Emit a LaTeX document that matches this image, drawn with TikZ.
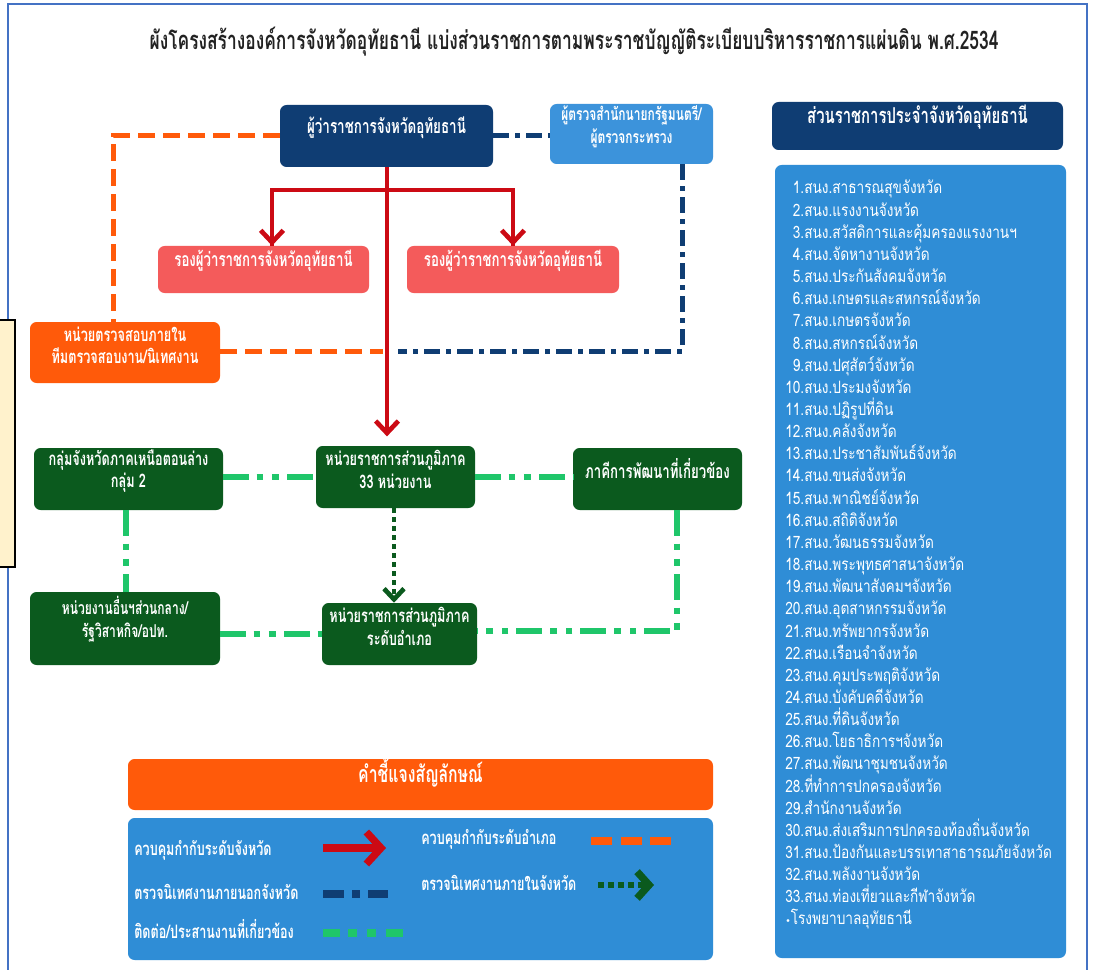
\documentclass[tikz,border=0pt]{standalone}
\usepackage{fontspec}
\setmainfont[Script=Thai]{Loma}
\newfontfamily\thai[Script=Thai,FakeStretch=0.8]{Loma}
\newfontfamily\thaib[Script=Thai,FakeStretch=0.68]{Loma Bold}
\newfontfamily\dejavu{DejaVu Sans}
\usetikzlibrary{fit,arrows.meta,calc}
\definecolor{navy}{HTML}{0F3D73}
\definecolor{inspblue}{HTML}{3C93DB}
\definecolor{salmon}{HTML}{F45B5B}
\definecolor{orng}{HTML}{FF5A0A}
\definecolor{dkgreen}{HTML}{0B5A1E}
\definecolor{listblue}{HTML}{2F8DD6}
\definecolor{lgreen}{HTML}{1FC66A}
\definecolor{redline}{HTML}{CC0A14}
\definecolor{framecol}{HTML}{4472C4}
\definecolor{cream}{HTML}{FFF2CC}
\definecolor{titlecol}{HTML}{222222}
\tikzset{
  box/.style={rounded corners=5pt, inner sep=0pt, text=white, align=center,
    font=\thaib\fontsize{14.6}{17}\selectfont},
  boxtwo/.style={box, font=\thaib\fontsize{14}{17}\selectfont},
  odash/.style={draw=orng, line width=3.75pt, dash pattern=on 12.75pt off 6pt},
  ndash/.style={draw=navy, line width=3.75pt, dash pattern=on 12pt off 4.5pt on 3.75pt off 4.5pt},
  gdash/.style={draw=lgreen, line width=4.5pt, dash pattern=on 19.5pt off 5.5pt on 5pt off 6.5pt on 5pt off 6.5pt},
  ddot/.style={draw=dkgreen, line width=3.5pt, dash pattern=on 3.75pt off 3pt},
  redarr/.style={draw=redline, line width=3pt, -{Straight Barb[length=9pt,width=17pt,line width=3.5pt]}},
  listtxt/.style={anchor=base west, inner sep=0pt, text=white, font=\thai\fontsize{12.8}{14}\selectfont},
  legtxt/.style={anchor=base west, inner sep=0pt, text=white, font=\thaib\fontsize{13.9}{15}\selectfont},
}
\begin{document}
\begin{tikzpicture}[x=0.75pt,y=-0.75pt]
\useasboundingbox (0,0) rectangle (1093,970);
\fill[white] (0,0) rectangle (1093,970);
% frame
\draw[framecol, line width=1.5pt] (8,975) -- (8,4) -- (1087,4) -- (1087,975);
% cream strip
\node[draw=black, fill=cream, line width=0.8pt, inner sep=0pt, fit={(-2,320) (15,567)}] (cream) {};
% title
\node[text=titlecol, inner sep=0pt, font=\thaib\fontsize{19.2}{22}\selectfont] (title) at (574,42)
  {ผังโครงสร้างองค์การจังหวัดอุทัยธานี แบ่งส่วนราชการตามพระราชบัญญัติระเบียบบริหารราชการแผ่นดิน พ.ศ.2534};

% boxes
\node[box, fill=navy, fit={(280,105) (493,167)}, font=\thaib\fontsize{14.8}{17}\selectfont] (gov) {ผู้ว่าราชการจังหวัดอุทัยธานี};
\node[boxtwo, fill=inspblue, fit={(550,104) (713,164)}, font=\thaib\fontsize{13.2}{17}\selectfont] (insp) {ผู้ตรวจสำนักนายกรัฐมนตรี/\\ผู้ตรวจกระทรวง};
\node[box, fill=salmon, fit={(158,246) (369,293)}] (depl) {รองผู้ว่าราชการจังหวัดอุทัยธานี};
\node[box, fill=salmon, fit={(407,246) (619,293)}] (depr) {รองผู้ว่าราชการจังหวัดอุทัยธานี};
\node[boxtwo, fill=orng, fit={(30,322) (220,383)}] (audit) {หน่วยตรวจสอบภายใน\\ทีมตรวจสอบงาน/นิเทศงาน};
\node[boxtwo, fill=dkgreen, fit={(34,448) (223,510)}] (grp) {กลุ่มจังหวัดภาคเหนือตอนล่าง\\กลุ่ม 2};
\node[boxtwo, fill=dkgreen, fit={(316,446) (475,508)}] (c33) {หน่วยราชการส่วนภูมิภาค\\33 หน่วยงาน};
\node[box, fill=dkgreen, fit={(573,448) (742,510)}] (party) {ภาคีการพัฒนาที่เกี่ยวข้อง};
\node[boxtwo, fill=dkgreen, fit={(30,592) (220,665)}, font=\thaib\fontsize{13.3}{17}\selectfont] (other) {หน่วยงานอื่นฯส่วนกลาง/\\รัฐวิสาหกิจ/อปท.};
\node[boxtwo, fill=dkgreen, fit={(322,603) (477,665)}] (camp) {หน่วยราชการส่วนภูมิภาค\\ระดับอำเภอ};

% right column
\node[box, fill=navy, fit={(772,102) (1063,150)}, font=\thaib\fontsize{16.4}{18}\selectfont] (rhead) {ส่วนราชการประจำจังหวัดอุทัยธานี};
\node[box, fill=listblue, fit={(775,165) (1066,958)}] (rlist) {};
\foreach \t [count=\i] in {
 {\hphantom{0}1.สนง.สาธารณสุขจังหวัด},
 {\hphantom{0}2.สนง.แรงงานจังหวัด},
 {\hphantom{0}3.สนง.สวัสดิการและคุ้มครองแรงงานฯ},
 {\hphantom{0}4.สนง.จัดหางานจังหวัด},
 {\hphantom{0}5.สนง.ประกันสังคมจังหวัด},
 {\hphantom{0}6.สนง.เกษตรและสหกรณ์จังหวัด},
 {\hphantom{0}7.สนง.เกษตรจังหวัด},
 {\hphantom{0}8.สนง.สหกรณ์จังหวัด},
 {\hphantom{0}9.สนง.ปศุสัตว์จังหวัด},
 {10.สนง.ประมงจังหวัด},
 {11.สนง.ปฏิรูปที่ดิน},
 {12.สนง.คลังจังหวัด},
 {13.สนง.ประชาสัมพันธ์จังหวัด},
 {14.สนง.ขนส่งจังหวัด},
 {15.สนง.พาณิชย์จังหวัด},
 {16.สนง.สถิติจังหวัด},
 {17.สนง.วัฒนธรรมจังหวัด},
 {18.สนง.พระพุทธศาสนาจังหวัด},
 {19.สนง.พัฒนาสังคมฯจังหวัด},
 {20.สนง.อุตสาหกรรมจังหวัด},
 {21.สนง.ทรัพยากรจังหวัด},
 {22.สนง.เรือนจำจังหวัด},
 {23.สนง.คุมประพฤติจังหวัด},
 {24.สนง.บังคับคดีจังหวัด},
 {25.สนง.ที่ดินจังหวัด},
 {26.สนง.โยธาธิการฯจังหวัด},
 {27.สนง.พัฒนาชุมชนจังหวัด},
 {28.ที่ทำการปกครองจังหวัด},
 {29.สำนักงานจังหวัด},
 {30.สนง.ส่งเสริมการปกครองท้องถิ่นจังหวัด},
 {31.สนง.ป้องกันและบรรเทาสาธารณภัยจังหวัด},
 {32.สนง.พลังงานจังหวัด},
 {33.สนง.ท่องเที่ยวและกีฬาจังหวัด},
 {{\dejavu\fontsize{7}{8}\selectfont •}โรงพยาบาลอุทัยธานี}}
 { \node[listtxt] (li\i) at (785,{194+22.15*(\i-1)}) {\t}; }

% connectors
\coordinate (redx) at (387,351);
\coordinate (navx) at (682,351);
\coordinate (rb) at (387,190);
\draw[odash] (gov.west) -| ([xshift=-9pt]audit.north);
\draw[odash] (audit.east |- redx) -- ([xshift=-3pt]redx);
\draw[ndash] (gov.east) -- (gov.east -| insp.west);
\draw[ndash] (insp.south -| navx) -- (navx) -- ([xshift=8pt]redx);
\draw[redarr] (gov.south -| redx) -- ([yshift=7pt]c33.north -| redx);
\draw[draw=redline, line width=3.5pt] (depl.north -| 272,0) |- (rb) -| (depr.north);
\draw[redarr] (rb -| 272,0) -- (depl.north -| 272,0);
\draw[redarr] (rb -| depr.north) -- (depr.north);
\draw[gdash] (grp.east |- c33.west) -- (c33.west);
\draw[gdash] (c33.east) -- (c33.east -| party.west);
\draw[gdash] (grp.south -| 126,0) -- (other.north -| 126,0);
\draw[gdash] (camp.west -| other.east) -- (camp.west);
\draw[gdash] ([xshift=-4pt]party.south -| navx) |- ([yshift=2pt]camp.east);
\draw[ddot, -{Straight Barb[length=8pt,width=15pt,line width=3.5pt]}] (c33.south -| 394,0) -- (camp.north -| 394,0);

% legend
\node[box, fill=orng, fit={(128,759) (713,810)}, font=\thaib\fontsize{17.4}{20}\selectfont] (lhead) {คำชี้แจงสัญลักษณ์};
\node[box, fill=listblue, fit={(128,818) (713,960)}] (lbody) {};
\node[legtxt] (lt1) at (134,855) {ควบคุมกำกับระดับจังหวัด};
\node[legtxt] (lt2) at (134,899) {ตรวจนิเทศงานภายนอกจังหวัด};
\node[legtxt] (lt3) at (134,938) {ติดต่อ/ประสานงานที่เกี่ยวข้อง};
\node[legtxt] (lt4) at (421,844) {ควบคุมกำกับระดับอำเภอ};
\node[legtxt] (lt5) at (421,890) {ตรวจนิเทศงานภายในจังหวัด};
\coordinate (s1a) at (323,848); \coordinate (s1b) at (386,848);
\coordinate (s2a) at (323,894); \coordinate (s2b) at (388,894);
\coordinate (s3a) at (323,933); \coordinate (s3b) at (403,933);
\coordinate (s4a) at (591,841); \coordinate (s4b) at (671,841);
\coordinate (s5a) at (598,885); \coordinate (s5b) at (654,885);
\draw[draw=redline, line width=6pt, -{Straight Barb[length=11pt,width=24pt,line width=5.5pt]}] (s1a) -- (s1b);
\draw[draw=navy, line width=5.5pt, dash pattern=on 15.75pt off 6pt on 6pt off 6pt] (s2a) -- (s2b);
\draw[draw=lgreen, line width=5.5pt, dash pattern=on 12.75pt off 6pt on 6.75pt off 7.5pt on 6.75pt off 7.5pt] (s3a) -- (s3b);
\draw[draw=orng, line width=5.5pt, dash pattern=on 15.75pt off 6.4pt] (s4a) -- (s4b);
\draw[draw=dkgreen, line width=5pt, dash pattern=on 4.5pt off 3pt, -{Straight Barb[length=9pt,width=20pt,line width=5.5pt]}] (s5a) -- (s5b);
\end{tikzpicture}
\end{document}
